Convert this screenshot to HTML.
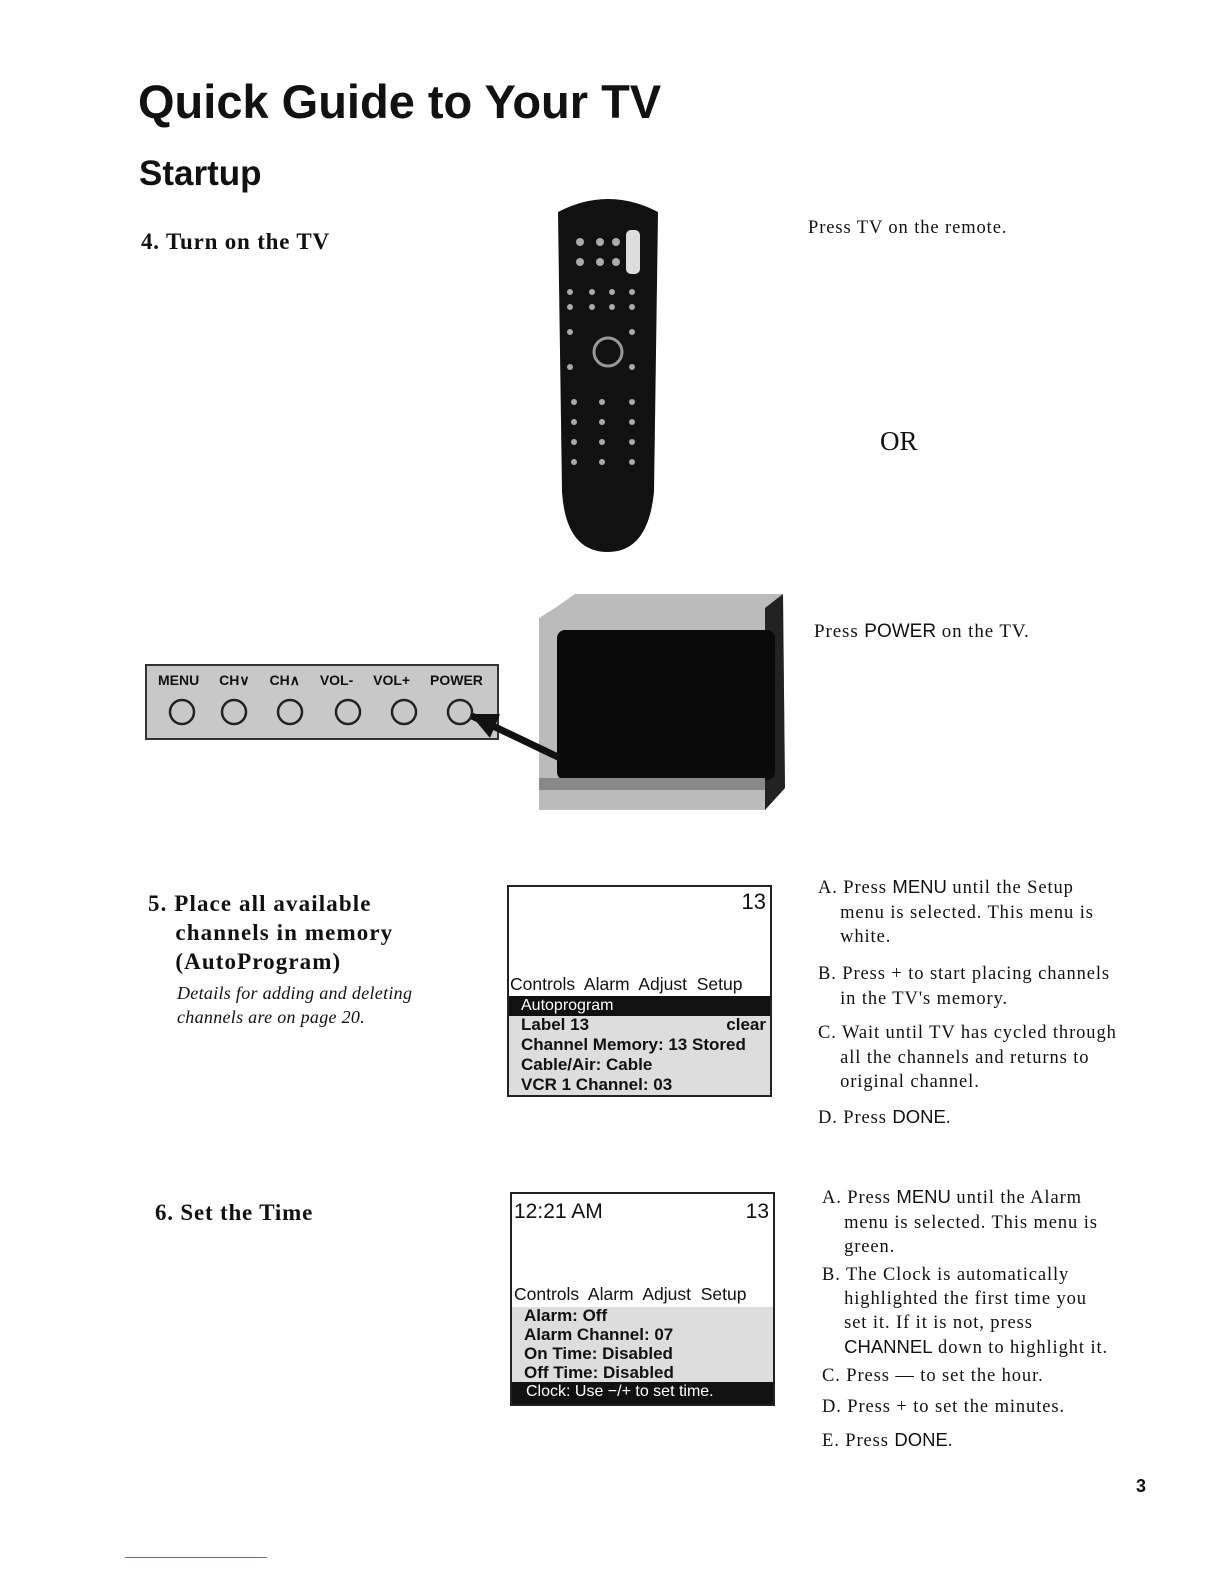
<!DOCTYPE html>
<html style="margin:0;width:1224px;height:1584px;overflow:hidden"><head><style>
body{margin:0;width:1224px;height:1584px;background:#fff;overflow:hidden;position:relative;font-family:"Liberation Serif",serif;color:#111}
#w{position:absolute;left:0;top:0;width:1224px;height:1584px;overflow:hidden}
.a{position:absolute;white-space:nowrap}
.t{letter-spacing:0.9px}
.h{font-family:"Liberation Sans",sans-serif;font-weight:bold}
.s{font-family:"Liberation Sans",sans-serif;letter-spacing:0}
.scr{position:absolute;border:2px solid #222;background:#fff;font-family:"Liberation Sans",sans-serif;overflow:hidden}
.g{background:#ddd}
</style></head><body><div id="w">
<div class="a h" style="left:138px;top:74px;font-size:47px">Quick Guide to Your TV</div>
<div class="a h" style="left:139px;top:154px;font-size:35px">Startup</div>
<div class="a" style="left:141px;top:229px;font-size:23px;font-weight:bold;letter-spacing:0.8px">4. Turn on the TV</div>
<div class="a t" style="left:808px;top:218px;font-size:18.5px">Press TV on the remote.</div>
<div class="a" style="left:880px;top:426px;font-size:27px">OR</div>
<div class="a t" style="left:814px;top:621px;font-size:19px">Press <span class="s">POWER</span> on the TV.</div>

<svg class="a" style="left:550px;top:192px" width="116" height="364">
<path d="M8 20 Q58 -6 108 20 L104 300 Q98 360 58 360 Q16 360 12 300 Z" fill="#111"/>
<rect x="76" y="38" width="14" height="44" rx="5" fill="#ddd"/>
<g fill="#aaa">
<circle cx="30" cy="50" r="4"/><circle cx="50" cy="50" r="4"/><circle cx="66" cy="50" r="4"/>
<circle cx="30" cy="70" r="4"/><circle cx="50" cy="70" r="4"/><circle cx="66" cy="70" r="4"/>
<circle cx="20" cy="100" r="3"/><circle cx="42" cy="100" r="3"/><circle cx="62" cy="100" r="3"/><circle cx="82" cy="100" r="3"/>
<circle cx="20" cy="115" r="3"/><circle cx="42" cy="115" r="3"/><circle cx="62" cy="115" r="3"/><circle cx="82" cy="115" r="3"/>
<circle cx="58" cy="160" r="14" fill="none" stroke="#999" stroke-width="3"/>
<circle cx="20" cy="140" r="3"/><circle cx="82" cy="140" r="3"/><circle cx="20" cy="175" r="3"/><circle cx="82" cy="175" r="3"/>
<circle cx="24" cy="210" r="3"/><circle cx="52" cy="210" r="3"/><circle cx="82" cy="210" r="3"/>
<circle cx="24" cy="230" r="3"/><circle cx="52" cy="230" r="3"/><circle cx="82" cy="230" r="3"/>
<circle cx="24" cy="250" r="3"/><circle cx="52" cy="250" r="3"/><circle cx="82" cy="250" r="3"/>
<circle cx="24" cy="270" r="3"/><circle cx="52" cy="270" r="3"/><circle cx="82" cy="270" r="3"/>
</g></svg>

<svg class="a" style="left:535px;top:588px" width="254" height="226">
<path d="M20 20 L40 6 L248 6 L250 200 L230 222 L4 222 L4 30 Z" fill="#bbb"/>
<path d="M230 20 L248 6 L250 200 L230 222 Z" fill="#222"/>
<rect x="22" y="42" width="218" height="150" rx="8" fill="#0a0a0a"/>
<rect x="4" y="190" width="226" height="12" fill="#888"/>
</svg>
<div class="a" style="left:145px;top:664px;width:350px;height:72px;border:2px solid #333;background:#c8c8c8"></div>
<div class="a s" style="left:158px;top:672px;font-size:14px;font-weight:bold;word-spacing:16px">MENU CH∨ CH∧ VOL- VOL+ POWER</div>
<svg class="a" style="left:160px;top:692px" width="400" height="70">
<g fill="none" stroke="#222" stroke-width="2.5">
<circle cx="22" cy="20" r="12"/><circle cx="74" cy="20" r="12"/><circle cx="130" cy="20" r="12"/><circle cx="188" cy="20" r="12"/><circle cx="244" cy="20" r="12"/><circle cx="300" cy="20" r="12"/></g>
<line x1="312" y1="24" x2="400" y2="66" stroke="#111" stroke-width="7"/>
<polygon points="310,22 340,22 330,46" fill="#111"/>
</svg>

<div class="a" style="left:148px;top:889px;font-size:23px;font-weight:bold;line-height:29px;letter-spacing:1.1px">5. Place all available<br>&nbsp;&nbsp;&nbsp;&nbsp;channels in memory<br>&nbsp;&nbsp;&nbsp;&nbsp;(AutoProgram)</div>
<div class="a" style="left:177px;top:981px;font-size:18px;font-style:italic;line-height:24px;letter-spacing:0.3px">Details for adding and deleting<br>channels are on page 20.</div>

<div class="scr" style="left:507px;top:885px;width:261px;height:208px">
<div class="a" style="right:4px;top:2px;font-size:22px">13</div>
<div class="a" style="left:1px;top:87px;font-size:17.5px">Controls&nbsp; Alarm&nbsp; Adjust&nbsp; Setup</div>
<div class="a" style="left:0;top:109px;width:261px;height:20px;background:#111;color:#fff;font-size:16px;padding-left:12px;box-sizing:border-box;line-height:19px">Autoprogram</div>
<div class="a g" style="left:0;top:129px;width:261px;height:79px"></div>
<div class="a" style="left:12px;top:128px;font-size:17px;font-weight:bold;line-height:20px">Label 13<br>Channel Memory: 13 Stored<br>Cable/Air: Cable<br>VCR 1 Channel: 03</div>
<div class="a" style="right:4px;top:128px;font-size:17px;font-weight:bold">clear</div>
</div>

<div class="a t" style="left:818px;top:875px;font-size:18.5px;line-height:24.5px">A. Press <span class="s">MENU</span> until the Setup<br>&nbsp;&nbsp;&nbsp;&nbsp;menu is selected. This menu is<br>&nbsp;&nbsp;&nbsp;&nbsp;white.</div>
<div class="a t" style="left:818px;top:962px;font-size:18.5px;line-height:24.5px">B. Press + to start placing channels<br>&nbsp;&nbsp;&nbsp;&nbsp;in the TV's memory.</div>
<div class="a t" style="left:818px;top:1021px;font-size:18.5px;line-height:24.5px">C. Wait until TV has cycled through<br>&nbsp;&nbsp;&nbsp;&nbsp;all the channels and returns to<br>&nbsp;&nbsp;&nbsp;&nbsp;original channel.</div>
<div class="a t" style="left:818px;top:1106px;font-size:18.5px">D. Press <span class="s">DONE</span>.</div>

<div class="a" style="left:155px;top:1200px;font-size:23px;font-weight:bold;letter-spacing:0.8px">6. Set the Time</div>

<div class="scr" style="left:510px;top:1192px;width:261px;height:210px">
<div class="a" style="left:2px;top:6px;font-size:21px">12:21 AM</div>
<div class="a" style="right:4px;top:6px;font-size:21px">13</div>
<div class="a" style="left:2px;top:90px;font-size:17.5px">Controls&nbsp; Alarm&nbsp; Adjust&nbsp; Setup</div>
<div class="a g" style="left:0;top:113px;width:261px;height:76px"></div>
<div class="a" style="left:12px;top:112px;font-size:17px;font-weight:bold;line-height:19px">Alarm: Off<br>Alarm Channel: 07<br>On Time: Disabled<br>Off Time: Disabled</div>
<div class="a" style="left:0;top:188px;width:261px;height:22px;background:#111;color:#fff;font-size:16px;padding-left:14px;box-sizing:border-box;line-height:20px">Clock: Use −/+ to set time.</div>
</div>

<div class="a t" style="left:822px;top:1185px;font-size:18.5px;line-height:24.5px">A. Press <span class="s">MENU</span> until the Alarm<br>&nbsp;&nbsp;&nbsp;&nbsp;menu is selected. This menu is<br>&nbsp;&nbsp;&nbsp;&nbsp;green.</div>
<div class="a t" style="left:822px;top:1263px;font-size:18.5px;line-height:24px">B. The Clock is automatically<br>&nbsp;&nbsp;&nbsp;&nbsp;highlighted the first time you<br>&nbsp;&nbsp;&nbsp;&nbsp;set it. If it is not, press<br>&nbsp;&nbsp;&nbsp;&nbsp;<span class="s">CHANNEL</span> down to highlight it.</div>
<div class="a t" style="left:822px;top:1366px;font-size:18.5px">C. Press — to set the hour.</div>
<div class="a t" style="left:822px;top:1397px;font-size:18.5px">D. Press + to set the minutes.</div>
<div class="a t" style="left:822px;top:1429px;font-size:18.5px">E. Press <span class="s">DONE</span>.</div>

<div class="a h" style="left:1136px;top:1476px;font-size:18px">3</div>
<div class="a" style="left:125px;top:1557px;width:142px;height:1px;background:#66a"></div>
</div></body></html>
